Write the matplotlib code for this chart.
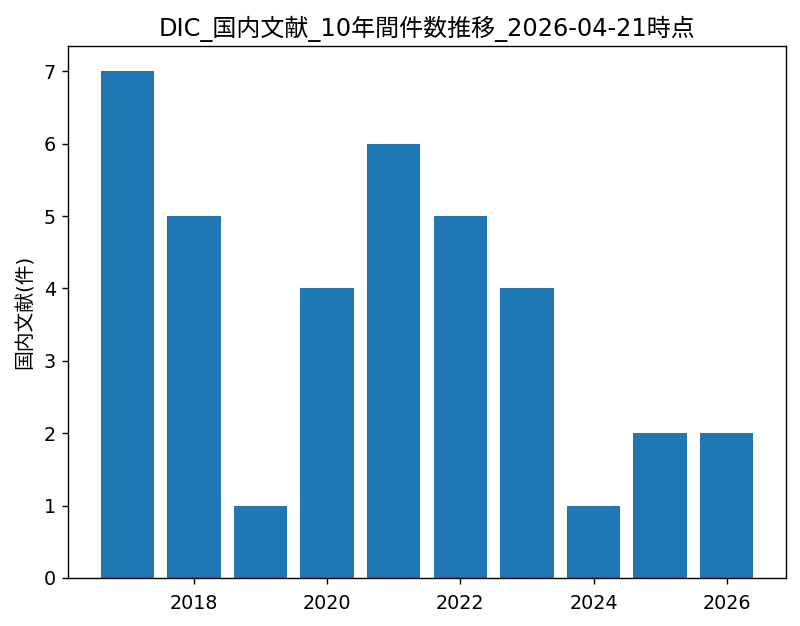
import matplotlib
matplotlib.use("Agg")
import matplotlib.pyplot as plt

plt.rcParams['font.family'] = ['DejaVu Sans', 'Noto Sans CJK JP']

years = [2017, 2018, 2019, 2020, 2021, 2022, 2023, 2024, 2025, 2026]
counts = [7, 5, 1, 4, 6, 5, 4, 1, 2, 2]

fig = plt.figure(figsize=(6.4, 5.008), dpi=125)
ax = fig.add_axes([0.085, 0.0767, 0.8975, 0.8498])
ax.bar(years, counts, color='#1f77b4')
ax.tick_params(labelsize=11)
ax.tick_params(axis='x', pad=6)
ax.set_ylabel('国内文献(件)', fontsize=11.4, labelpad=5)
ax.set_title('DIC_国内文献_10年間件数推移_2026-04-21時点', fontsize=13.8)
fig.savefig('out.png', dpi=125)
